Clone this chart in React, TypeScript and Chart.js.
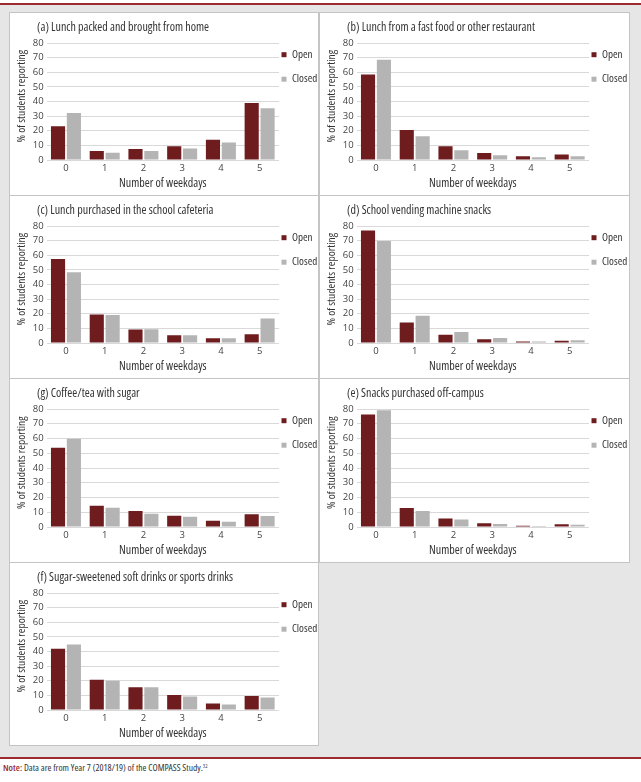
import React, { useEffect, useRef } from 'react';
import { Chart, registerables } from 'chart.js';

Chart.register(...registerables);

const FONT = '"Open Sans", "Roboto", sans-serif';
const COND = 'condensed'; // font-stretch keyword placed in Chart.js font string

// ---------- data ----------
const weekdays = ['0', '1', '2', '3', '4', '5'];
const seriesNames = ['Open', 'Closed'];
const yMax = 80;
const yStep = 10;
const xAxisTitle = 'Number of weekdays';
const yAxisTitle = '% of students reporting';

const titleA = '(a) Lunch packed and brought from home';
const openA = [23, 6.2, 7.6, 9.4, 13.8, 39];
const closedA = [32.2, 5, 6.2, 7.8, 12, 35.4];

const titleB = '(b) Lunch from a fast food or other restaurant';
const openB = [58.4, 20.5, 9.4, 4.8, 2.5, 3.7];
const closedB = [68.5, 16.3, 6.7, 3.2, 1.8, 2.5];

const titleC = '(c) Lunch purchased in the school cafeteria';
const openC = [57.5, 19.5, 9.2, 5.3, 3.2, 6.0];
const closedC = [48.3, 19.1, 9.4, 5.3, 3.2, 16.8];

const titleD = '(d) School vending machine snacks';
const openD = [77, 14, 5.7, 2.5, 1.1, 1.6];
const closedD = [69.7, 18.6, 7.6, 3.4, 1.1, 1.8];

const titleG = '(g) Coffee/tea with sugar';
const openG = [53.8, 14.4, 10.9, 7.7, 4.2, 8.6];
const closedG = [59.9, 13, 9, 7, 3.5, 7.4];

const titleE = '(e) Snacks purchased off-campus';
const openE = [76.3, 12.8, 5.8, 2.6, 0.9, 1.9];
const closedE = [79.1, 10.9, 5.1, 2.1, 0.7, 1.6];

const titleF = '(f) Sugar-sweetened soft drinks or sports drinks';
const openF = [41.8, 20.6, 15.5, 10.2, 4.4, 9.5];
const closedF = [44.8, 20, 15.5, 9.3, 3.7, 8.6];

const noteLabel = 'Note:';
const noteText = ' Data are from Year 7 (2018/19) of the COMPASS Study.';
const noteRef = '32';

// ---------- style / layout ----------
const OPEN_COLOR = '#6e1c1e';
const CLOSED_COLOR = '#b4b4b4';
const GRID_COLOR = '#d9d9d9';
const TEXT_COLOR = '#333333';
const TICK_COLOR = '#444444';
const RED_LINE = '#9c2a2e';

const panels = [
  { title: titleA, open: openA, closed: closedA, left: 9, top: 12, width: 310, height: 184 },
  { title: titleB, open: openB, closed: closedB, left: 319, top: 12, width: 311, height: 184 },
  { title: titleC, open: openC, closed: closedC, left: 9, top: 195, width: 310, height: 184 },
  { title: titleD, open: openD, closed: closedD, left: 319, top: 195, width: 311, height: 184 },
  { title: titleG, open: openG, closed: closedG, left: 9, top: 378, width: 310, height: 185 },
  { title: titleE, open: openE, closed: closedE, left: 319, top: 378, width: 311, height: 185 },
  { title: titleF, open: openF, closed: closedF, left: 9, top: 562, width: 310, height: 184 },
];

type PanelProps = {
  title: string;
  open: number[];
  closed: number[];
  left: number;
  top: number;
  width: number;
  height: number;
};

function Panel({ title, open, closed, left, top, width, height }: PanelProps) {
  const ref = useRef<HTMLCanvasElement | null>(null);
  const cw = width - 2;
  const ch = height - 2;

  useEffect(() => {
    if (!ref.current) return;
    const plotLeft = 36.6;
    const plotRight = 269;
    const chart = new Chart(ref.current, {
      type: 'bar',
      data: {
        labels: weekdays,
        datasets: [
          {
            label: seriesNames[0],
            data: open,
            backgroundColor: OPEN_COLOR,
            categoryPercentage: 0.82,
            barPercentage: 0.89,
          },
          {
            label: seriesNames[1],
            data: closed,
            backgroundColor: CLOSED_COLOR,
            categoryPercentage: 0.82,
            barPercentage: 0.89,
          },
        ],
      },
      options: {
        animation: false,
        responsive: false,
        maintainAspectRatio: false,
        devicePixelRatio: 1,
        layout: { padding: { top: 30, left: 0, right: 0, bottom: 0 } },
        font: { family: FONT },
        plugins: {
          tooltip: { enabled: false },
          title: { display: false },
          legend: {
            display: true,
            position: 'right',
            align: 'start',
            maxWidth: cw - plotRight,
            title: { display: true, text: ' ', font: { size: 1, lineHeight: '3.7px' }, padding: 0 },
            labels: {
              boxWidth: 5,
              boxHeight: 5,
              padding: 2.5,
              color: TEXT_COLOR,
              font: { family: FONT, size: 11, weight: COND, lineHeight: '22px' },
              generateLabels: (c: any) => {
                const items = Chart.defaults.plugins.legend.labels.generateLabels(c);
                return items.map((it: any) => ({ ...it, text: [it.text], lineWidth: 0 }));
              },
            },
          },
        },
        scales: {
          x: {
            type: 'category',
            offset: true,
            grid: { display: false, drawTicks: false },
            border: { display: false },
            ticks: { color: TICK_COLOR, padding: 3, autoSkip: false, font: { family: FONT, size: 9.5 } },
            title: {
              display: true,
              text: xAxisTitle,
              color: TEXT_COLOR,
              font: { family: FONT, size: 12, weight: COND },
              padding: { top: 0, bottom: 4 },
            },
            afterFit: (s: any) => {
              s.height = 35;
            },
          },
          y: {
            type: 'linear',
            min: 0,
            max: yMax,
            grid: { color: GRID_COLOR, lineWidth: 1, drawTicks: false },
            border: { display: false },
            ticks: {
              stepSize: yStep,
              autoSkip: false,
              color: TICK_COLOR,
              padding: 3,
              font: { family: FONT, size: 9.5 },
            },
            title: {
              display: true,
              text: '     ' + yAxisTitle,
              color: TEXT_COLOR,
              font: { family: FONT, size: 11.5, weight: COND },
              padding: { top: 5, bottom: 0 },
            },
            afterFit: (s: any) => {
              s.width = plotLeft;
            },
          },
        },
      } as any,
    });
    return () => chart.destroy();
  }, [title, open, closed, cw, ch]);

  return (
    <div
      style={{
        position: 'absolute',
        left,
        top,
        width,
        height,
        boxSizing: 'border-box',
        border: '1px solid #c4c4c4',
        background: '#ffffff',
      }}
    >
      <canvas
        ref={ref}
        width={cw}
        height={ch}
        style={{ position: 'absolute', left: 0, top: 0, width: cw, height: ch, display: 'block' }}
      />
      <div
        style={{
          position: 'absolute',
          left: 27,
          top: 7,
          fontFamily: FONT,
          fontStretch: COND,
          fontSize: 12,
          lineHeight: '14px',
          color: TEXT_COLOR,
          whiteSpace: 'nowrap',
        }}
      >
        {title}
      </div>
    </div>
  );
}

export default function App() {
  return (
    <div
      style={{
        position: 'absolute',
        left: 0,
        top: 0,
        width: 641,
        height: 782,
        background: '#ffffff',
        overflow: 'hidden',
      }}
    >
      <div style={{ position: 'absolute', left: 0, top: 3, width: 641, height: 2, background: RED_LINE }} />
      <div style={{ position: 'absolute', left: 0, top: 5, width: 641, height: 752, background: '#e6e6e6' }} />
      {panels.map((p, i) => (
        <Panel key={i} {...p} />
      ))}
      <div style={{ position: 'absolute', left: 0, top: 757, width: 641, height: 2, background: RED_LINE }} />
      <div
        style={{
          position: 'absolute',
          left: 3,
          top: 762,
          fontFamily: FONT,
          fontStretch: COND,
          fontSize: 9.5,
          lineHeight: '12px',
          color: TEXT_COLOR,
          whiteSpace: 'nowrap',
        }}
      >
        <span style={{ color: RED_LINE, fontWeight: 600 }}>{noteLabel}</span>
        {noteText}
        <sup style={{ fontSize: 5.5, verticalAlign: 'top', lineHeight: '8px' }}>{noteRef}</sup>
      </div>
    </div>
  );
}
